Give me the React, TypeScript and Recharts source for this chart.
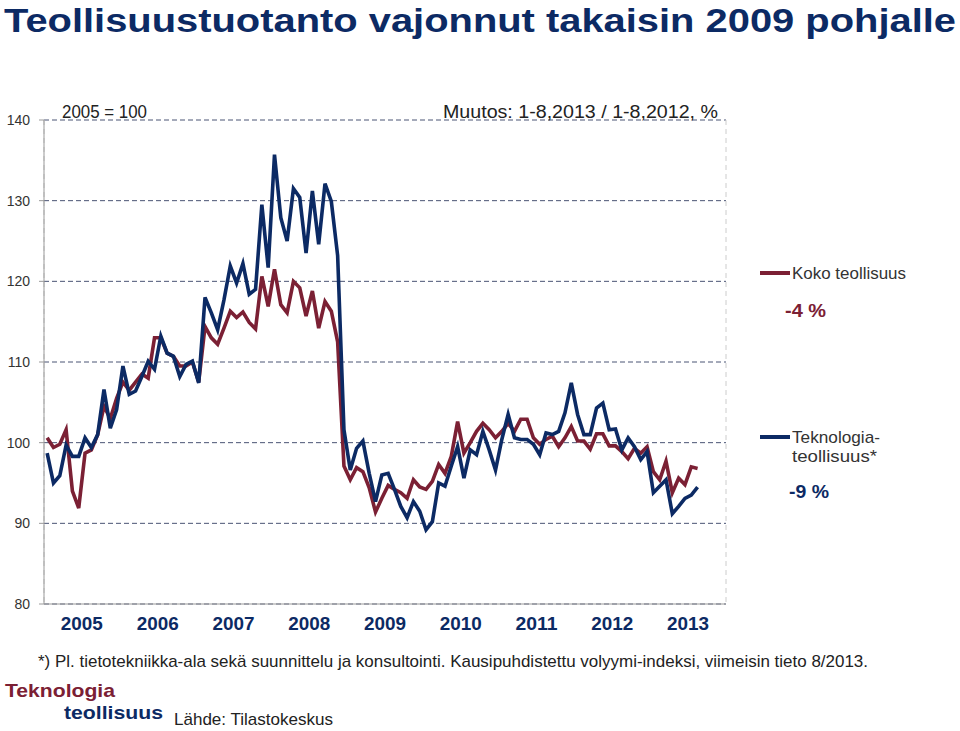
import { LineChart, Line, XAxis, YAxis, CartesianGrid } from "recharts";

// kuukausittain 1/2005 - 8/2013, 2005 = 100
const YEARS = ["2005", "2006", "2007", "2008", "2009", "2010", "2011", "2012", "2013"];

const KOKO_TEOLLISUUS = [
  100.6, 99.4, 99.8, 101.6, 94.0, 91.9, 98.7, 99.1, 101.0, 104.5, 103.0, 105.5,
  107.5, 106.5, 107.5, 108.5, 108.0, 113.0, 113.0, 111.1, 110.7, 109.5, 109.5, 110.0,
  107.5, 114.4, 113.0, 112.2, 114.2, 116.3, 115.5, 116.2, 114.9, 114.1, 120.6, 116.9,
  121.5, 117.1, 116.1, 120.0, 119.2, 115.7, 118.8, 114.2, 117.5, 116.3, 112.5, 97.1,
  95.4, 96.9, 96.4, 94.4, 91.4, 93.1, 94.7, 94.2, 93.8, 93.1, 95.4, 94.5,
  94.2, 95.2, 97.3, 96.2, 98.3, 102.6, 98.7, 100.0, 101.4, 102.4, 101.6, 100.6,
  101.4, 102.4, 101.4, 102.9, 102.9, 100.6, 99.8, 100.4, 100.8, 99.5, 100.6, 102.0,
  100.2, 100.2, 99.2, 101.1, 101.1, 99.6, 99.6, 98.9, 98.0, 99.3, 98.7, 99.5,
  96.4, 95.4, 97.7, 93.8, 95.6, 94.8, 97.0, 96.8,
];

const TEKNOLOGIATEOLLISUUS = [
  98.7, 95.0, 95.9, 99.7, 98.3, 98.3, 100.6, 99.4, 101.0, 106.6, 101.8, 104.1,
  109.5, 106.0, 106.4, 108.2, 110.1, 109.1, 113.2, 111.1, 110.7, 108.2, 109.7, 110.1,
  107.4, 118.0, 116.1, 114.0, 117.7, 121.9, 119.8, 122.2, 118.4, 119.0, 129.5, 121.7,
  135.7, 127.9, 125.0, 131.5, 130.4, 123.5, 131.2, 124.6, 132.1, 129.9, 123.2, 101.6,
  96.6, 99.3, 100.2, 96.2, 92.7, 96.0, 96.2, 94.2, 92.1, 90.7, 92.7, 91.5,
  89.2, 90.2, 95.0, 94.6, 97.1, 99.5, 95.6, 99.1, 98.5, 101.4, 99.1, 96.6,
  100.4, 103.5, 100.6, 100.4, 100.4, 99.8, 98.5, 101.2, 101.0, 101.4, 103.7, 107.4,
  103.5, 101.0, 101.0, 104.3, 104.9, 101.6, 101.7, 99.1, 100.6, 99.5, 97.9, 98.9,
  93.8, 94.6, 95.4, 91.2, 92.1, 93.1, 93.5, 94.5,
];

const Y_TICKS = [80, 90, 100, 110, 120, 130, 140];

const data = KOKO_TEOLLISUUS.map((v, i) => ({
  t: i + 0.5,
  koko: v,
  tekno: TEKNOLOGIATEOLLISUUS[i],
}));

const yearEdges = [...YEARS.map((_, i) => i * 12), YEARS.length * 12];
const yearMids = YEARS.map((_, i) => i * 12 + 6);

const NAVY = "#0c2a64";
const MAROON = "#7b2034";
const FONT = "'Liberation Sans', Arial, sans-serif";

function YearTick({ x, y, payload }: any) {
  const label = YEARS[Math.floor(payload.value / 12)];
  return (
    <text x={x} y={y} dy={13} textAnchor="middle" fontFamily={FONT} fontSize={18} fontWeight="bold" fill={NAVY} textLength={42} lengthAdjust="spacingAndGlyphs">
      {label}
    </text>
  );
}

export default function App() {
  return (
    <div style={{ position: "absolute", top: 0, left: 0, width: 960, height: 731, background: "#fff", fontFamily: FONT }}>
      <LineChart width={960} height={731} data={data} margin={{ top: 120, right: 234, bottom: 82, left: 4 }}>
        <CartesianGrid xAxisId="grid" vertical={false} stroke="#4a5474" strokeDasharray="5 3" />
        <CartesianGrid xAxisId="grid" horizontal={false} stroke="#cccccc" strokeDasharray="5 4" />
        <XAxis
          xAxisId="grid"
          dataKey="t"
          type="number"
          domain={[0, 108]}
          ticks={yearEdges}
          tick={false}
          tickSize={5}
          height={5}
          stroke="#999"
        />
        <XAxis
          xAxisId="lab"
          dataKey="t"
          type="number"
          domain={[0, 108]}
          ticks={yearMids}
          axisLine={false}
          tickLine={false}
          height={40}
          tick={<YearTick />}
        />
        <YAxis
          domain={[80, 140]}
          ticks={Y_TICKS}
          width={40}
          tickSize={5}
          tickMargin={9}
          stroke="#999"
          tick={{ fontSize: 14, fill: "#333", fontFamily: FONT }}
        />
        <Line xAxisId="grid" dataKey="koko" stroke={MAROON} strokeWidth={3.6} dot={false} isAnimationActive={false} />
        <Line xAxisId="grid" dataKey="tekno" stroke={NAVY} strokeWidth={3.6} dot={false} isAnimationActive={false} />
      </LineChart>

      <svg width={960} height={731} style={{ position: "absolute", top: 0, left: 0, pointerEvents: "none" }} fontFamily={FONT}>
        <text x={4} y={32} fontSize={33} fontWeight="bold" fill={NAVY} textLength={952} lengthAdjust="spacingAndGlyphs">
          Teollisuustuotanto vajonnut takaisin 2009 pohjalle
        </text>
        <text x={62} y={118} fontSize={18} fill="#222" textLength={85} lengthAdjust="spacingAndGlyphs">2005 = 100</text>
        <text x={443} y={118} fontSize={18} fill="#222" textLength={275} lengthAdjust="spacingAndGlyphs">
          Muutos: 1-8,2013 / 1-8,2012, %
        </text>

        <line x1={760} x2={790} y1={273} y2={273} stroke={MAROON} strokeWidth={4} />
        <text x={792} y={279} fontSize={17} fill="#333" textLength={114} lengthAdjust="spacingAndGlyphs">Koko teollisuus</text>
        <text x={785} y={317} fontSize={18} fontWeight="bold" fill={MAROON} textLength={41} lengthAdjust="spacingAndGlyphs">-4 %</text>

        <line x1={760} x2={790} y1={437} y2={437} stroke={NAVY} strokeWidth={4} />
        <text x={792} y={443} fontSize={17} fill="#333" textLength={88} lengthAdjust="spacingAndGlyphs">Teknologia-</text>
        <text x={792} y={462} fontSize={17} fill="#333" textLength={85} lengthAdjust="spacingAndGlyphs">teollisuus*</text>
        <text x={789} y={498} fontSize={18} fontWeight="bold" fill={NAVY} textLength={40} lengthAdjust="spacingAndGlyphs">-9 %</text>

        <text x={38} y={667} fontSize={17} fill="#222" textLength={830} lengthAdjust="spacingAndGlyphs">
          *) Pl. tietotekniikka-ala sekä suunnittelu ja konsultointi. Kausipuhdistettu volyymi-indeksi, viimeisin tieto 8/2013.
        </text>
        <text x={5} y={697} fontSize={19} fontWeight="bold" fill={MAROON} textLength={110} lengthAdjust="spacingAndGlyphs">Teknologia</text>
        <text x={64} y={719} fontSize={19} fontWeight="bold" fill={NAVY} textLength={99} lengthAdjust="spacingAndGlyphs">teollisuus</text>
        <text x={174} y={725} fontSize={17} fill="#222" textLength={159} lengthAdjust="spacingAndGlyphs">Lähde: Tilastokeskus</text>
      </svg>
    </div>
  );
}
